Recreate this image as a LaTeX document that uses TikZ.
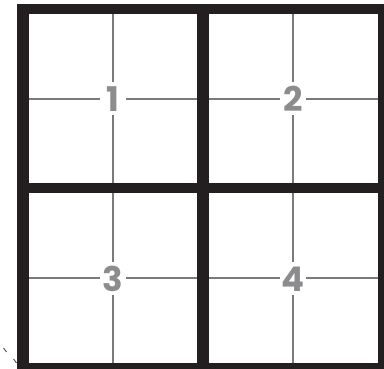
\documentclass[tikz,border=0pt]{standalone}
\usepackage{fontspec}
\setmainfont{Poppins}
\usetikzlibrary{positioning}
\definecolor{ink}{HTML}{231F20}
\definecolor{rule}{HTML}{7A7A7A}
\definecolor{digit}{HTML}{8C8C8E}

\begin{document}
\begin{tikzpicture}[
  x=1pt, y=-1pt,
  wallv/.style={draw=ink, line width=12pt},
  wallh/.style={draw=ink, line width=10.5pt},
  thin/.style={draw=rule, line width=1.1pt},
  num/.style={fill=white, text=digit, font=\fontsize{34}{34}\selectfont\bfseries,
    minimum width=26pt, minimum height=33pt, inner sep=0pt},
  tick/.style={draw=ink!80, line width=0.9pt}
]
\useasboundingbox (0,0) rectangle (384,369);
\clip (0,0) rectangle (384,369);

% thin quarter lines
\draw[thin] (113,14) -- (113,183);
\draw[thin] (29,99) -- (197,99);
\draw[thin] (293,14) -- (293,183);
\draw[thin] (209,99) -- (378,99);
\draw[thin] (113,193) -- (113,363);
\draw[thin] (29,278) -- (197,278);
\draw[thin] (293,193) -- (293,363);
\draw[thin] (209,278) -- (378,278);

% numbers
\node[num] (n1) at (113,99) {1};
\node[num] (n2) at (293,99) {2};
\node[num] (n3) at (113,279) {3};
\node[num] (n4) at (293,279) {4};

% heavy frame
\draw[wallh] (17,9) -- (390,9);
\draw[wallh] (17,188) -- (390,188);
\draw[wallh] (17,368) -- (390,368);
\draw[wallv] (23,4) -- (23,374);
\draw[wallv] (203,4) -- (203,374);
\draw[wallv] (384,4) -- (384,374);

% stray marks
\draw[tick] (3.5,348) -- (6.5,352);
\draw[tick] (13.5,359) -- (16.5,363);
\end{tikzpicture}
\end{document}
